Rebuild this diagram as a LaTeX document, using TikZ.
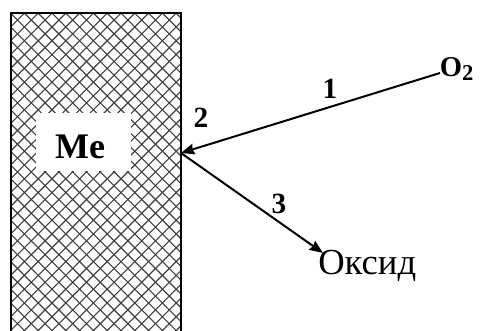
\documentclass[tikz,border=0pt]{standalone}
\usepackage{fontspec}
\setmainfont{Liberation Serif}[BoldFont={Liberation Serif Bold}]
\usetikzlibrary{arrows.meta}
\begin{document}
\begin{tikzpicture}[x=0.75pt,y=-0.75pt,
  hatch/.style={black!75,line width=0.85pt},
  wall/.style={line width=1.6pt},
  arr/.style={line width=1.5pt,-{Stealth[length=10pt,width=8pt,inset=1pt]}},
  lbl/.style={font=\fontsize{22}{24}\selectfont\bfseries,inner sep=0pt},
  bigb/.style={font=\fontsize{27}{30}\selectfont\bfseries,inner sep=0pt},
  txt/.style={font=\fontsize{27.5}{30}\selectfont,inner sep=0pt}]
\useasboundingbox (0,0) rectangle (480,331);
% metal block with crosshatch
\begin{scope}
  \clip (11,13) rectangle (181,340);
  \foreach \k in {-18,...,20} {
    \draw[hatch] ({258.4+13.8*\k+400},-400) -- ({258.4+13.8*\k-400},400);
  }
  \foreach \k in {-26,...,11} {
    \draw[hatch] ({25+13.8*\k-400},-400) -- ({25+13.8*\k+400},400);
  }
\end{scope}
\draw[wall] (11,340) -- (11,13) -- (181,13) -- (181,340);
\node[fill=white,minimum width=71.25pt,minimum height=43.5pt,inner sep=0pt] (mebox) at (83.5,142) {};
\node[bigb] (me) at (80,147) {Me};
% points
\coordinate (W) at (181,153);
\coordinate (A1) at (440,73);
\coordinate (A3) at (323,253);
\node[font=\fontsize{21.5}{24}\selectfont\bfseries,inner sep=0pt,anchor=south west] (o2) at (439.5,80.5) {O\raisebox{-2.5pt}{\fontsize{17}{20}\selectfont 2}};
\node[txt,anchor=north west] (oks) at (318,250) {Оксид};
\draw[arr] (A1) -- (W);
\draw[arr] (W) -- (A3);
\node[lbl] (l1) at (330,89) {1};
\node[lbl] (l2) at (201,118) {2};
\node[lbl] (l3) at (279,204) {3};
\end{tikzpicture}
\end{document}
